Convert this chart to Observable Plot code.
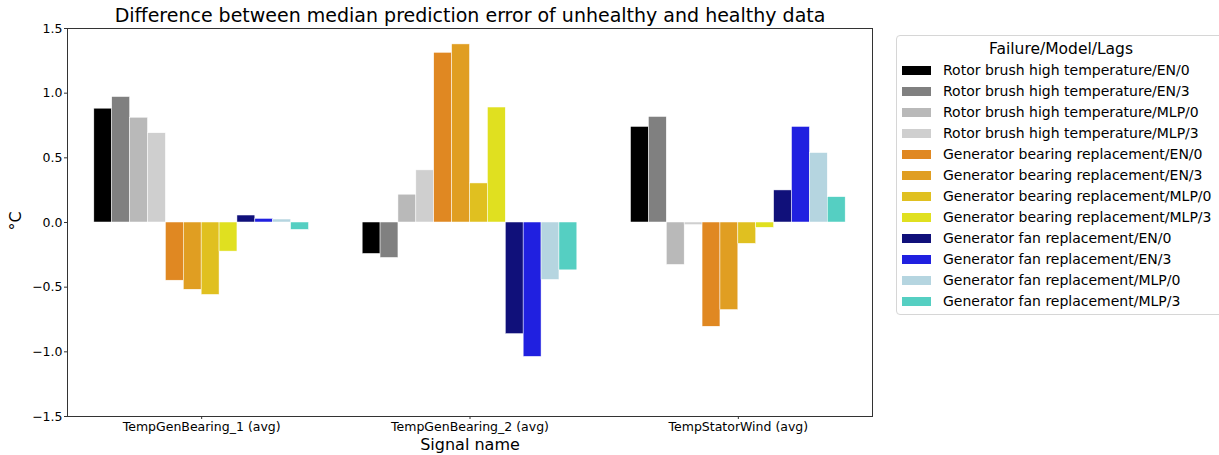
<!DOCTYPE html>
<html>
<head>
<meta charset="utf-8">
<script src="https://cdn.jsdelivr.net/npm/d3@7"></script>
<script src="https://cdn.jsdelivr.net/npm/@observablehq/plot@0.6"></script>
<style>
  html, body { margin: 0; padding: 0; background: #fff; }
  #wrap { position: relative; width: 1219px; height: 455px; overflow: hidden; font-family: "DejaVu Sans", sans-serif; color: #000; }
  #chart { position: absolute; left: 0; top: 0; }
  .lbl { position: absolute; white-space: nowrap; line-height: 1; }
  #legend { position: absolute; left: 896px; top: 35px; width: 330px; height: 280px; box-sizing: border-box; border: 1px solid #d6d6d6; border-radius: 4px; background: #fff; }
  .lg-title { position: absolute; left: 0; width: 328px; text-align: center; font-size: 15.5px; line-height: 1; top: 6px; }
  .lg-patch { position: absolute; left: 5px; width: 29px; height: 9px; }
  .lg-text { position: absolute; left: 46px; font-size: 14px; line-height: 1; white-space: nowrap; }
</style>
</head>
<body>
<div id="wrap">
  <div id="chart"></div>
  <div class="lbl" id="title" style="left:470px; top:6px; transform:translateX(-50%); font-size:19px;">Difference between median prediction error of unhealthy and healthy data</div>
  <div class="lbl" id="xlabel" style="left:470px; top:437px; transform:translateX(-50%); font-size:16px;">Signal name</div>
  <div class="lbl" id="ylabel" style="left:16px; top:221px; transform:translate(-50%,-50%) rotate(-90deg); font-size:16px;">°C</div>
  <div id="legend"></div>
</div>
<script>
// ---- data ----
const signals = ["TempGenBearing_1 (avg)", "TempGenBearing_2 (avg)", "TempStatorWind (avg)"];
const legendTitle = "Failure/Model/Lags";
const seriesNames = [
  "Rotor brush high temperature/EN/0",
  "Rotor brush high temperature/EN/3",
  "Rotor brush high temperature/MLP/0",
  "Rotor brush high temperature/MLP/3",
  "Generator bearing replacement/EN/0",
  "Generator bearing replacement/EN/3",
  "Generator bearing replacement/MLP/0",
  "Generator bearing replacement/MLP/3",
  "Generator fan replacement/EN/0",
  "Generator fan replacement/EN/3",
  "Generator fan replacement/MLP/0",
  "Generator fan replacement/MLP/3"
];
const seriesColors = [
  "#000000", "#808080", "#b9b9b9", "#cfcfcf",
  "#e08822", "#e09e22", "#e0c020", "#e0e020",
  "#10107a", "#2020e0", "#b5d5e0", "#55cfc2"
];
// values per signal, in series order
const tempGenBearing1 = [0.88, 0.97, 0.81, 0.69, -0.45, -0.52, -0.56, -0.225, 0.054, 0.028, 0.023, -0.057];
const tempGenBearing2 = [-0.243, -0.274, 0.215, 0.403, 1.312, 1.377, 0.302, 0.889, -0.863, -1.039, -0.444, -0.37];
const tempStatorWind  = [0.739, 0.816, -0.328, -0.02, -0.806, -0.677, -0.165, -0.041, 0.248, 0.739, 0.537, 0.196];
const yTicks = [-1.5, -1.0, -0.5, 0.0, 0.5, 1.0, 1.5];

// ---- table ----
const valuesBySignal = [tempGenBearing1, tempGenBearing2, tempStatorWind];
const groupWidth = 0.8;
const barW = groupWidth / seriesNames.length;
const rows = [];
valuesBySignal.forEach((vals, g) => {
  vals.forEach((v, s) => rows.push({g, s, series: seriesNames[s], value: v}));
});

const plot = Plot.plot({
  width: 880,
  height: 455,
  marginLeft: 67,
  marginRight: 8,
  marginTop: 28,
  marginBottom: 39,
  style: {fontFamily: "DejaVu Sans, sans-serif", fontSize: "12.5px", color: "#000", background: "transparent"},
  x: {type: "linear", domain: [-0.5, 2.5]},
  y: {domain: [-1.5, 1.5]},
  color: {type: "ordinal", domain: seriesNames, range: seriesColors},
  marks: [
    Plot.rectY(rows, {
      x1: d => d.g - groupWidth / 2 + d.s * barW,
      x2: d => d.g - groupWidth / 2 + (d.s + 1) * barW,
      y: "value",
      fill: "series",
      stroke: "white",
      strokeWidth: 0.5
    }),
    Plot.axisX({ticks: [0, 1, 2], tickFormat: i => signals[i], tickSize: 3, tickPadding: 3, label: null, stroke: "#333"}),
    Plot.axisY({ticks: yTicks, tickFormat: d3.format(".1f"), tickSize: 3, tickPadding: 2, label: null, stroke: "#333"}),
    Plot.frame({stroke: "#333", strokeWidth: 1})
  ]
});
document.getElementById("chart").appendChild(plot);

// ---- legend ----
const lg = document.getElementById("legend");
const t = document.createElement("div");
t.className = "lg-title";
t.textContent = legendTitle;
lg.appendChild(t);
seriesNames.forEach((name, i) => {
  const cy = 34 + i * 21;
  const p = document.createElement("div");
  p.className = "lg-patch";
  p.style.top = (cy - 4.5) + "px";
  p.style.background = seriesColors[i];
  lg.appendChild(p);
  const l = document.createElement("div");
  l.className = "lg-text";
  l.style.top = (cy - 7.5) + "px";
  l.textContent = name;
  lg.appendChild(l);
});
</script>
</body>
</html>
